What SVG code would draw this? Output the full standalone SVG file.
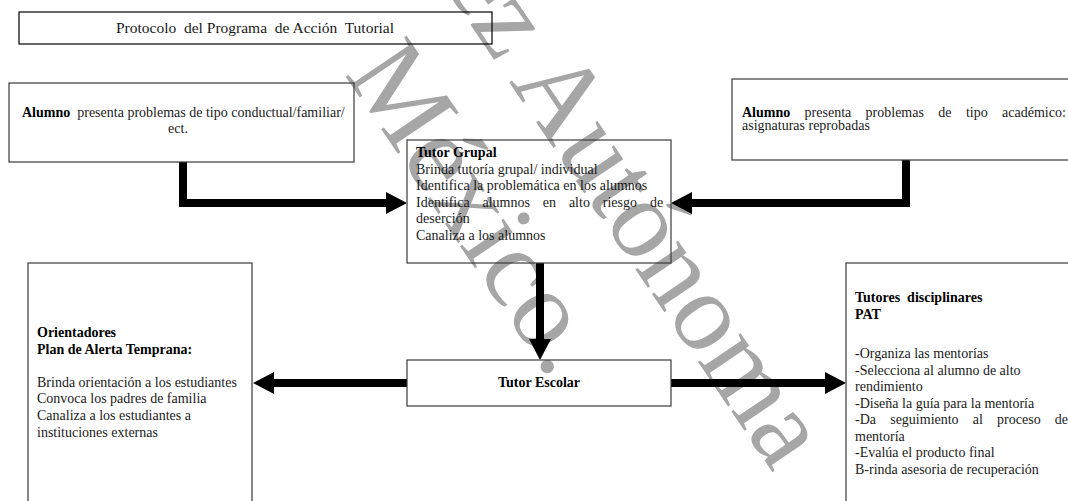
<svg xmlns="http://www.w3.org/2000/svg" width="1068" height="501" viewBox="0 0 1068 501">
<style>
.box{fill:none;stroke:#3a3a3a;stroke-width:1.2}
.t{font-family:"Liberation Serif","Times New Roman",serif;font-size:14px;fill:#1a1a1a}
.b{font-weight:bold;fill:#000}
.wm{font-family:"Liberation Serif","Times New Roman",serif;font-size:112px;fill:#a6a6a6}
.c{fill:none;stroke:#000;stroke-width:8;stroke-linejoin:miter}
</style>
<defs>
<marker id="ah" markerUnits="userSpaceOnUse" viewBox="0 -11 21 22" refX="0" refY="0" markerWidth="21" markerHeight="22" orient="auto">
<path d="M0,-11 L21,0 L0,11 z" fill="#000"/>
</marker>
</defs>
<rect width="1068" height="501" fill="#fff"/>
<g id="watermark">
<text class="wm" x="441" y="-19" transform="rotate(56 441 -19)" xml:space="preserve">ez Autónoma</text>
<text class="wm" x="344" y="74" transform="rotate(56 344 74)">México.</text>
</g>
<g id="connectors">
<path class="c" d="M183,162 V203 H386" marker-end="url(#ah)"/>
<path class="c" d="M906,160 V203 H692" marker-end="url(#ah)"/>
<path class="c" d="M540,263 V339" marker-end="url(#ah)"/>
<path class="c" d="M407,383 H274" marker-end="url(#ah)"/>
<path class="c" d="M671,383 H825" marker-end="url(#ah)"/>
</g>
<g id="title">
<rect class="box" x="19" y="12" width="473" height="32" style="stroke:#000"/>
<text class="t" x="255" y="33" text-anchor="middle" style="font-size:15.5px" xml:space="preserve">Protocolo  del Programa  de Acción  Tutorial</text>
</g>
<g id="alumno-conductual">
<rect class="box" x="9" y="83" width="345" height="79"/>
<text class="t" x="22" y="117" xml:space="preserve"><tspan class="b">Alumno</tspan>  presenta problemas de tipo conductual/familiar/</text>
<text class="t" x="178" y="133" text-anchor="middle">ect.</text>
</g>
<g id="alumno-academico">
<rect class="box" x="732" y="79" width="345" height="81"/>
<text class="t" y="116.5"><tspan class="b" x="742">Alumno</tspan><tspan x="804.6">presenta</tspan><tspan x="865.6">problemas</tspan><tspan x="938.3">de</tspan><tspan x="965.9">tipo</tspan><tspan x="1002.1">académico:</tspan></text>
<text class="t" x="742" y="130">asignaturas reprobadas</text>
</g>
<g id="tutor-grupal">
<rect class="box" x="407" y="140" width="264" height="123"/>
<text class="t b" x="416" y="157">Tutor Grupal</text>
<text class="t" x="416" y="173.5">Brinda tutoría grupal/ individual</text>
<text class="t" x="416" y="190">Identifica la problemática en los alumnos</text>
<text class="t" y="206.5"><tspan x="416">Identifica</tspan><tspan x="482.5">alumnos</tspan><tspan x="542.8">en</tspan><tspan x="568.9">alto</tspan><tspan x="602.8">riesgo</tspan><tspan x="649.9">de</tspan></text>
<text class="t" x="416" y="223">deserción</text>
<text class="t" x="416" y="239.5">Canaliza a los alumnos</text>
</g>
<g id="tutor-escolar">
<rect class="box" x="407" y="360" width="264" height="46"/>
<text class="t b" x="539" y="387" text-anchor="middle">Tutor Escolar</text>
</g>
<g id="orientadores">
<rect class="box" x="28" y="263" width="224" height="250"/>
<text class="t b" x="37" y="337">Orientadores</text>
<text class="t b" x="37" y="353.6">Plan de Alerta Temprana:</text>
<text class="t" x="37" y="386.8">Brinda orientación a los estudiantes</text>
<text class="t" x="37" y="403.4">Convoca los padres de familia</text>
<text class="t" x="37" y="420">Canaliza a los estudiantes a</text>
<text class="t" x="37" y="436.6">instituciones externas</text>
</g>
<g id="tutores-disciplinares">
<rect class="box" x="846" y="263" width="240" height="250"/>
<text class="t b" x="855" y="302" xml:space="preserve">Tutores  disciplinares</text>
<text class="t b" x="855" y="318.5">PAT</text>
<text class="t" x="855" y="358">-Organiza las mentorías</text>
<text class="t" x="855" y="374.5">-Selecciona al alumno de alto</text>
<text class="t" x="855" y="391">rendimiento</text>
<text class="t" x="855" y="407.5">-Diseña la guía para la mentoría</text>
<text class="t" y="424"><tspan x="855">-Da</tspan><tspan x="890.2">seguimiento</tspan><tspan x="972.8">al</tspan><tspan x="997.1">proceso</tspan><tspan x="1054.8">de</tspan></text>
<text class="t" x="855" y="440.5">mentoría</text>
<text class="t" x="855" y="457">-Evalúa el producto final</text>
<text class="t" x="855" y="473.5">B-rinda asesoria de recuperación</text>
</g>
</svg>
